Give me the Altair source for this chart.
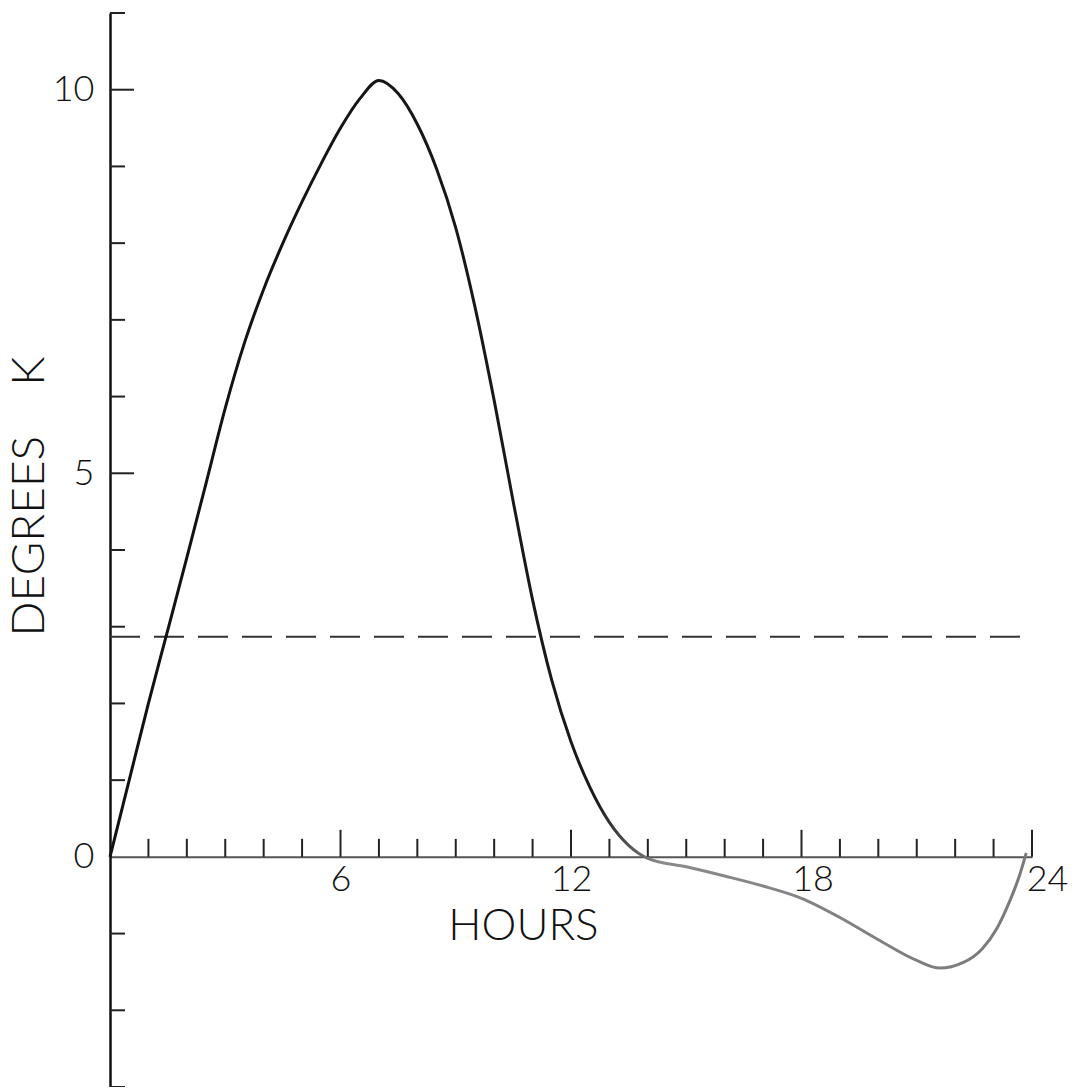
import altair as alt
import pandas as pd

# Diurnal temperature excursion (degrees K) over a 24-hour cycle
hours = [0.0, 0.5, 1.0, 1.5, 2.0, 2.5, 3.0, 3.5, 4.0, 4.5, 5.0, 5.5, 6.0,
         6.5, 7.0, 7.5, 8.0, 8.5, 9.0, 9.5, 10.0, 10.5, 11.0, 11.5, 12.0,
         12.5, 13.0, 13.5, 14.0, 15.0, 16.0, 17.0, 18.0, 19.0, 20.0, 21.0,
         21.6, 22.2, 22.7, 23.1, 23.4, 23.65, 23.85]
degrees = [0.0, 1.0, 2.0, 2.95, 3.9, 4.87, 5.85, 6.7, 7.4, 8.0, 8.54,
           9.04, 9.5, 9.88, 10.12, 9.95, 9.55, 8.97, 8.2, 7.17, 5.95, 4.62,
           3.35, 2.3, 1.5, 0.9, 0.45, 0.15, -0.02, -0.13, -0.25, -0.38,
           -0.54, -0.79, -1.08, -1.35, -1.45, -1.38, -1.2, -0.92, -0.6,
           -0.28, 0.05]

reference_level = 2.87          # dashed horizontal level

hour_minor_ticks = [h for h in range(1, 24) if h % 6 != 0]
hour_major_ticks = [6, 12, 18, 24]
hour_labels = [6, 12, 18, 24]

degree_minor_ticks = [d for d in range(-3, 12) if d not in (0, 5, 10)]
degree_major_ticks = [5, 10]
degree_labels = [0, 5, 10]

FONT = "Lato"
INK = "#111111"

curve = pd.DataFrame({"hour": hours, "deg": degrees})

x_scale = alt.Scale(domain=[0, 24], nice=False, zero=False)
y_scale = alt.Scale(domain=[-3, 11], nice=False, zero=False)

W, H = 922, 1074
UNIT_Y = H / 14

x_axis = alt.Axis(
    values=hour_labels, ticks=False, grid=False, format="d",
    labelFlush=False, labelOverlap=False,
    domainColor="#555555", domainWidth=2,
    offset=-3 * UNIT_Y,
    labelFont=FONT, labelFontWeight=300, labelFontSize=36, labelColor=INK,
    labelPadding=6,
    labelOffset={"condition": [{"test": "datum.value == 24", "value": 15},
                               {"test": "datum.value == 18", "value": 11}],
                 "value": 0},
    title="HOURS", titleFont=FONT, titleFontWeight=300, titleFontSize=44,
    titleColor=INK, titleAlign="center", titleBaseline="middle",
    titleX=413, titleY=70,
)

y_axis = alt.Axis(
    values=degree_labels, ticks=False, grid=False, format="d",
    labelFlush=False, labelOverlap=False,
    domainColor=INK, domainWidth=2.5,
    labelFont=FONT, labelFontWeight=300, labelFontSize=36, labelColor=INK,
    labelPadding=16,
    title="DEGREES\u00a0\u00a0\u00a0\u00a0K", titleFont=FONT, titleFontWeight=300,
    titleFontSize=46, titleColor=INK, titleAlign="center",
    titleBaseline="middle", titleX=-81, titleY=483,
)

base = alt.Chart(curve)

line = base.mark_line(
    interpolate="monotone", strokeWidth=3,
    color=alt.Gradient(
        gradient="linear", x1=0, x2=1, y1=0, y2=0,
        stops=[alt.GradientStop(offset=0, color="#111111"),
               alt.GradientStop(offset=0.53, color="#1a1a1a"),
               alt.GradientStop(offset=0.6, color="#8a8a8a"),
               alt.GradientStop(offset=1, color="#7a7a7a")],
    ),
).encode(
    x=alt.X("hour:Q", scale=x_scale, axis=x_axis),
    y=alt.Y("deg:Q", scale=y_scale, axis=y_axis),
)

dashed = alt.Chart(pd.DataFrame({"lvl": [reference_level]})).mark_rule(
    strokeDash=[30, 14], strokeWidth=2, color="#333333"
).encode(
    y=alt.Y("lvl:Q", scale=y_scale),
    x=alt.datum(0, scale=x_scale),
    x2=alt.datum(24),
)

# Hour ticks rise upward from the zero line
x_minor = alt.Chart(pd.DataFrame({"h": hour_minor_ticks})).mark_rule(
    strokeWidth=2, color="#222222", y2Offset=-18
).encode(
    x=alt.X("h:Q", scale=x_scale),
    y=alt.datum(0, scale=y_scale),
    y2=alt.datum(0),
)
x_major = alt.Chart(pd.DataFrame({"h": hour_major_ticks})).mark_rule(
    strokeWidth=2, color="#222222", y2Offset=-27
).encode(
    x=alt.X("h:Q", scale=x_scale),
    y=alt.datum(0, scale=y_scale),
    y2=alt.datum(0),
)

# Degree ticks point inward from the vertical axis
y_minor = alt.Chart(pd.DataFrame({"d": degree_minor_ticks})).mark_rule(
    strokeWidth=2, color="#222222", x2Offset=15
).encode(
    y=alt.Y("d:Q", scale=y_scale),
    x=alt.datum(0, scale=x_scale),
    x2=alt.datum(0),
)
y_major = alt.Chart(pd.DataFrame({"d": degree_major_ticks})).mark_rule(
    strokeWidth=2, color="#222222", x2Offset=24
).encode(
    y=alt.Y("d:Q", scale=y_scale),
    x=alt.datum(0, scale=x_scale),
    x2=alt.datum(0),
)

chart = alt.layer(dashed, x_minor, x_major, y_minor, y_major, line).properties(
    width=W, height=H,
    autosize=alt.AutoSizeParams(type="none"),
    padding={"left": 110, "top": 13, "right": 40, "bottom": 0},
    background="white",
).configure_view(stroke=None)

chart.save("out.html", embed_options={"renderer": "svg", "actions": False})
